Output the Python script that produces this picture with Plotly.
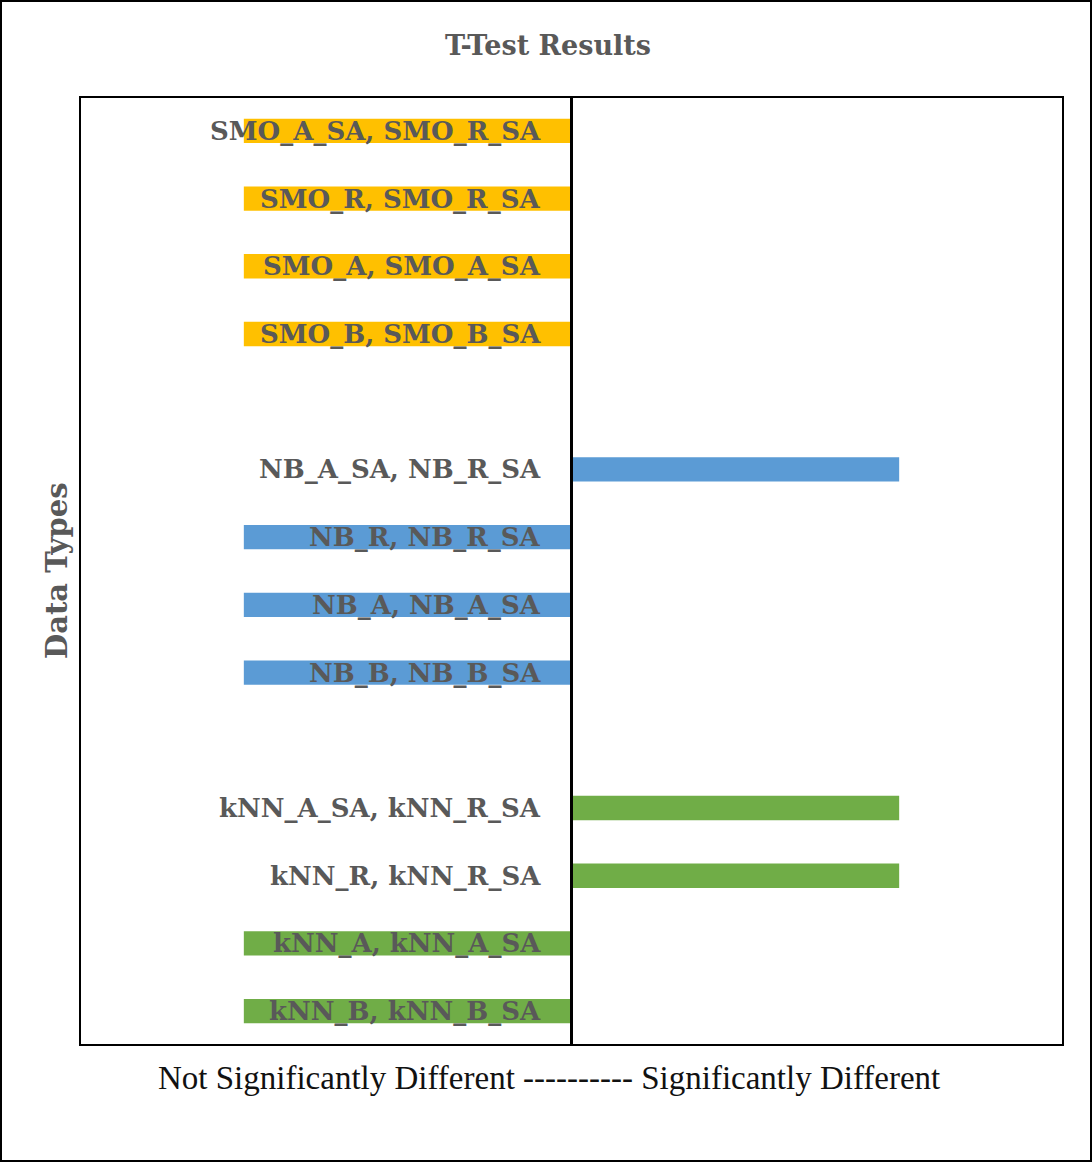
import plotly.graph_objects as go

# Categories from top to bottom (blank entries are spacers between groups)
categories = [
    "SMO_A_SA, SMO_R_SA", "SMO_R, SMO_R_SA", "SMO_A, SMO_A_SA", "SMO_B, SMO_B_SA",
    " ",
    "NB_A_SA, NB_R_SA", "NB_R, NB_R_SA", "NB_A, NB_A_SA", "NB_B, NB_B_SA",
    "  ",
    "kNN_A_SA, kNN_R_SA", "kNN_R, kNN_R_SA", "kNN_A, kNN_A_SA", "kNN_B, kNN_B_SA",
]
# -1 = not significantly different, +1 = significantly different
smo_values = [-1, -1, -1, -1]
nb_values = [1, -1, -1, -1]
knn_values = [1, 1, -1, -1]

smo_cats = categories[0:4]
nb_cats = categories[5:9]
knn_cats = categories[10:14]

colors = {"SMO": "#FFC000", "NB": "#5B9BD5", "kNN": "#70AD47"}

W, H = 1092, 1162
L, R, T, B = 80, 29, 97, 117
pw, ph = W - L - R, H - T - B

fig = go.Figure()
for name, cats, vals in [("SMO", smo_cats, smo_values), ("NB", nb_cats, nb_values), ("kNN", knn_cats, knn_values)]:
    fig.add_trace(go.Bar(
        y=cats, x=vals, orientation="h", width=0.36,
        marker=dict(color=colors[name], line=dict(width=0)),
        name=name, showlegend=False, hoverinfo="y",
    ))

label_font = dict(family="DejaVu Serif", size=26, color="#595959")
for c in categories:
    if c.strip():
        fig.add_annotation(x=0, y=c, xref="x", yref="y", text="<b>" + c + "</b>",
                           showarrow=False, xanchor="right", xshift=-29,
                           font=label_font)

# center line
fig.add_shape(type="line", xref="x", yref="paper", x0=0, x1=0, y0=0, y1=1,
              line=dict(color="black", width=3), layer="above")
# plot border
fig.add_shape(type="rect", xref="paper", yref="paper", x0=0, x1=1, y0=0, y1=1,
              line=dict(color="black", width=2), layer="above")
# outer border
fig.add_shape(type="rect", xref="paper", yref="paper",
              x0=(1 - L) / pw, x1=(W - 1 - L) / pw,
              y0=-(B - 1) / ph, y1=(H - 1 - B) / ph,
              line=dict(color="black", width=2), layer="above")

# titles
fig.add_annotation(text="<b>T-Test Results</b>", xref="paper", yref="paper",
                   x=(548 - L) / pw, y=(H - B - 45) / ph, showarrow=False,
                   xanchor="center", yanchor="middle",
                   font=dict(family="DejaVu Serif", size=27, color="#595959"))
fig.add_annotation(text="<b>Data Types</b>", xref="paper", yref="paper",
                   x=(57 - L) / pw, y=(H - B - 571) / ph, showarrow=False,
                   textangle=-90, xanchor="center", yanchor="middle",
                   font=dict(family="DejaVu Serif", size=29, color="#595959"))
fig.add_annotation(text="Not Significantly Different ---------- Significantly Different",
                   xref="paper", yref="paper",
                   x=(549 - L) / pw, y=(H - B - 1078) / ph, showarrow=False,
                   xanchor="center", yanchor="middle",
                   font=dict(family="Liberation Serif", size=33, color="#111111"))

fig.update_layout(
    width=W, height=H,
    margin=dict(l=L, r=R, t=T, b=B),
    paper_bgcolor="white", plot_bgcolor="white",
    barmode="overlay",
    xaxis=dict(range=[-1.5, 1.5], showticklabels=False, showgrid=False,
               zeroline=False, ticks=""),
    yaxis=dict(categoryorder="array", categoryarray=categories[::-1],
               type="category", range=[-0.5, len(categories) - 0.5],
               showticklabels=False, showgrid=False, zeroline=False, ticks=""),
)

fig.write_html("out.html", config={"displayModeBar": False},
               post_script="document.body.style.margin='0';")
